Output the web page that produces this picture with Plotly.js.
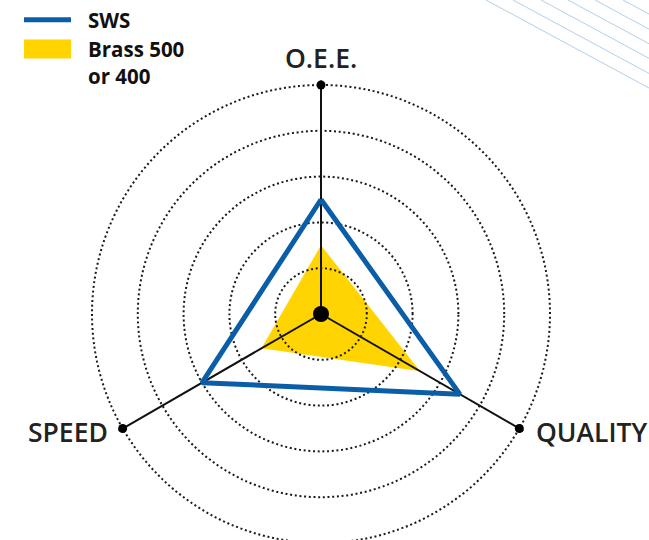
<!DOCTYPE html>
<html>
<head>
<meta charset="utf-8">
<script src="https://cdn.plot.ly/plotly-3.0.1.min.js"></script>
<style>
html,body{margin:0;padding:0;overflow:hidden;background:#fff;}
#chart{width:649px;height:548px;}
</style>
</head>
<body>
<div id="chart"></div>
<script>
// ---- data ----
const categories = ['O.E.E.', 'QUALITY', 'SPEED'];
const swsValues = [2.5, 3.5, 3.0];
const brassValues = [1.5, 2.5, 1.5];
const seriesNames = ['SWS', 'Brass 500<br>or 400'];
const gridLevels = [1, 2, 3, 4, 5];
const maxLevel = 5;

const closeLoop = a => a.concat([a[0]]);

const W = 649, H = 548;
const rMax = maxLevel * 1.02;            // a little headroom so the outer ring is drawn
const cx = 321, cy = 314, R5 = 229;      // radius (px) of the outermost ring
const R = R5 * rMax / maxLevel;
const domain = {
  x: [(cx - R) / W, (cx + R) / W],
  y: [(H - (cy + R)) / H, (H - (cy - R)) / H]
};

const font = 'Open Sans, Noto Sans, DejaVu Sans, sans-serif';

const traces = [
  {
    type: 'scatterpolar', subplot: 'polar',
    name: seriesNames[1],
    r: closeLoop(brassValues), theta: closeLoop(categories),
    mode: 'lines', fill: 'toself', fillcolor: '#FFD400',
    line: {color: '#FFD400', width: 0},
    legendrank: 2
  },
  {
    type: 'scatterpolar', subplot: 'polar2',
    name: seriesNames[0],
    r: closeLoop(swsValues), theta: closeLoop(categories),
    mode: 'lines',
    line: {color: '#0A5EA8', width: 5, shape: 'linear'},
    legendrank: 1
  },
  {
    type: 'scatterpolar', subplot: 'polar2',
    r: categories.map(() => maxLevel), theta: categories,
    mode: 'markers', marker: {color: '#000', size: 9},
    cliponaxis: false, showlegend: false, hoverinfo: 'skip'
  },
  {
    type: 'scatterpolar', subplot: 'polar2',
    r: [0], theta: [categories[0]],
    mode: 'markers', marker: {color: '#000', size: 16},
    cliponaxis: false, showlegend: false, hoverinfo: 'skip'
  }
];

const hiddenRadial = {range: [0, rMax], showgrid: false, showline: false, showticklabels: false, ticks: ''};
const hiddenAngular = {type: 'category', categoryarray: categories, rotation: 90, direction: 'clockwise',
  showgrid: false, showline: false, showticklabels: false, ticks: ''};

// decorative diagonal lines at top-right
const decoStarts = [486, 513, 541, 568, 595, 623, 650];
const shapes = decoStarts.map(x0 => ({
  type: 'line', xref: 'paper', yref: 'paper',
  x0: x0 / W, y0: 1, x1: (x0 + 300) / W, y1: 1 - 162 / H,
  line: {color: '#B3CFEA', width: 1}
}));

// axis labels placed just outside the end of each spoke
const labelPlacement = [
  {x: 321, y: 58, xanchor: 'center'},
  {x: 534, y: 432, xanchor: 'left'},
  {x: 110, y: 432, xanchor: 'right'}
];
const annotations = categories.map((c, i) => ({
  text: c, showarrow: false, xref: 'paper', yref: 'paper',
  x: labelPlacement[i].x / W, y: 1 - labelPlacement[i].y / H,
  xanchor: labelPlacement[i].xanchor, yanchor: 'middle',
  font: {family: font, size: 26.5, color: '#222', weight: 600}
}));

const layout = {
  width: W, height: H,
  margin: {l: 0, r: 0, t: 0, b: 0},
  paper_bgcolor: '#fff',
  showlegend: true,
  legend: {
    x: 19 / W, y: 1, xanchor: 'left', yanchor: 'top',
    font: {family: font, size: 20.5, color: '#111', weight: 700},
    traceorder: 'normal', valign: 'top', itemwidth: 59,
    bgcolor: 'rgba(0,0,0,0)', tracegroupgap: 0
  },
  shapes: shapes,
  annotations: annotations,
  polar: {
    domain: domain, bgcolor: 'rgba(0,0,0,0)',
    radialaxis: hiddenRadial, angularaxis: hiddenAngular
  },
  polar2: {
    domain: domain, bgcolor: 'rgba(0,0,0,0)',
    radialaxis: {
      range: [0, rMax], tickvals: gridLevels, showticklabels: false, ticks: '',
      showline: false, showgrid: true, gridcolor: '#1a1a1a', gridwidth: 2, griddash: '2px,2.7px'
    },
    angularaxis: {
      type: 'category', categoryarray: categories, rotation: 90, direction: 'clockwise',
      showline: false, showgrid: true, gridcolor: '#111', gridwidth: 2,
      ticks: '', showticklabels: false
    }
  }
};

Plotly.newPlot('chart', traces, layout, {displayModeBar: false, staticPlot: true}).then(gd => {
  // legend swatch shapes: long line and a tall filled block, as in the source
  gd.querySelectorAll('.legend .traces').forEach(tr => {
    const line = tr.querySelector('.legendlines path');
    const fill = tr.querySelector('.legendfill path');
    if (fill) {
      fill.setAttribute('d', 'M5,-10h47v19h-47z');
      if (line) line.setAttribute('d', '');
    } else if (line) {
      line.setAttribute('d', 'M5,0h47');
    }
  });
});
</script>
</body>
</html>
